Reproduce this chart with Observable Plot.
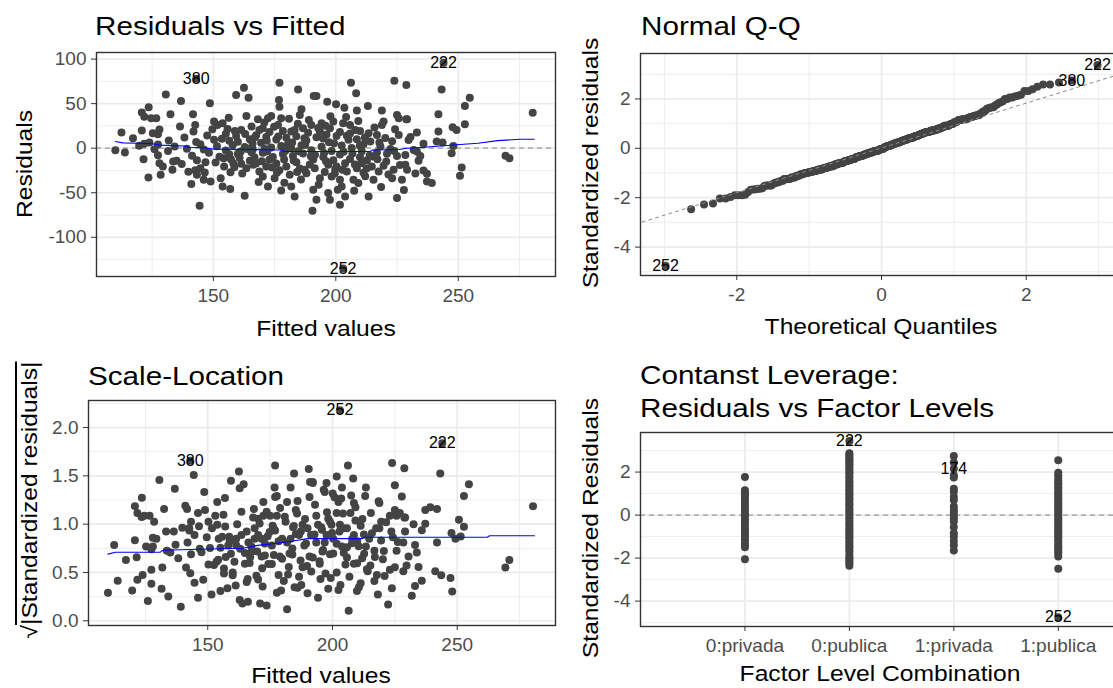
<!DOCTYPE html>
<html><head><meta charset="utf-8">
<script src="https://cdn.jsdelivr.net/npm/d3@7"></script>
<script src="https://cdn.jsdelivr.net/npm/@observablehq/plot@0.6"></script>
<style>
body{margin:0;width:1113px;height:688px;overflow:hidden;position:relative;background:#fff;font-family:"Liberation Sans",Arial,sans-serif;}
.panel{position:absolute;width:580px;z-index:1;}
.panel svg{max-width:none !important;}
.title{position:absolute;z-index:3;font-size:26px;line-height:1;color:#000;white-space:nowrap;transform-origin:left center;transform:scaleX(1.14);}
.xlab{position:absolute;z-index:3;font-size:22px;line-height:1;color:#000;white-space:nowrap;transform:translateX(-50%) scaleX(1.12);}
.ylab{position:absolute;z-index:3;font-size:22px;line-height:1;color:#000;white-space:nowrap;transform:translate(-50%,-50%) rotate(-90deg) scaleX(1.12);}
</style></head>
<body>
<div class="title" style="left:95px;top:13px">Residuals vs Fitted</div>
<div class="title" style="left:641px;top:13px">Normal Q-Q</div>
<div class="title" style="left:88px;top:363px">Scale-Location</div>
<div class="title" style="left:640px;top:359px;line-height:33px">Contanst Leverage:<br>Residuals vs Factor Levels</div>
<div class="xlab" style="left:326px;top:318px">Fitted values</div>
<div class="xlab" style="left:881px;top:316px">Theoretical Quantiles</div>
<div class="xlab" style="left:321px;top:665px">Fitted values</div>
<div class="xlab" style="left:880px;top:663px">Factor Level Combination</div>
<div class="ylab" style="left:25px;top:164px">Residuals</div>
<div class="ylab" style="left:591px;top:163px">Standardized residuals</div>
<div class="ylab" style="left:30px;top:500px">√<span style="text-decoration:overline">|Standardized residuals|</span></div>
<div class="ylab" style="left:591px;top:528px">Standardized Residuals</div>
<div id="p1" class="panel" style="left:0;top:45px"></div>
<div id="p2" class="panel" style="left:560px;top:45px"></div>
<div id="p3" class="panel" style="left:0;top:390px"></div>
<div id="p4" class="panel" style="left:560px;top:425px"></div>
<script>
// Residuals vs fitted values: [fitted, residual]
const residPoints = [
[110,-2.4],[112.5,17.5],[113.9,-4.9],[117.2,11.2],[120.8,40],[123.6,46],[121.8,35.4],[124.6,33.6],[120.8,19.8],[121.8,5.1],
[121.5,-12.3],[123.5,-32.8],[126.7,33.6],[128,21],[127.4,15.6],[125.3,16.8],[123.9,6.4],[127.4,4.2],[127.4,-7.9],[126,-1.2],
[128,-16.8],[129.4,-20.5],[128.5,-29.9],[130.6,60.4],[132.5,38],[131.8,8.6],[131.5,-3.1],[133.6,-14.9],[133.3,-24.3],[136.4,24.3],
[136.8,53],[135,-14.2],[137.1,-17.6],[138.2,11.9],[139.2,-0.6],[141.7,38],[142.6,26],[141.9,18.7],[143,6.9],[141.3,-8.6],
[143.3,-13.5],[144.7,-22.4],[142.6,-24.8],[141,-40.3],[146.1,-35.4],[144.4,-64.6],[148.6,50.4],[150.3,29.9],[149.6,21.3],[148.9,-37.3],
[148.2,-5.1],[150.9,-16.1],[153,-33.6],[153.8,-42.9],[156.9,-45.9],[151.7,26.1],[153.8,28],[156.3,34.3],[153.5,10.6],[156.5,8.3],
[159.3,59.7],[162.5,67.9],[164.4,56.7],[163.5,36.2],[162.8,-53.4],[161.4,20.5],[165.6,24.3],[159.3,13.7],[155.1,-2.7],[157.9,3.2],
[160,-6.3],[162.8,1.3],[165.6,-4.6],[157.2,-12.4],[161.4,-17.4],[163.5,-22.4],[158.6,-21.5],[166.3,-18.7],[154.4,-20.5],[164.9,9.9],
[167,12.3],[146.1,-1.6],[144.7,4.4],[146.8,-15.8],[143.3,-29.9],[119.7,2.8],[155.1,16.2],[160,7.1],[163.9,-0.9],[156.5,-6.8],
[160.7,-10.6],[164.9,-14],[157,-27],[150.3,9.6],[147.5,14.3],
[177,73.5],[184.6,66],[192.1,58.6],[191,58.6],[196.5,52.2],[200.1,49.3],[203.5,45.5],[206.2,73.5],[208.3,61.6],[213.1,47.4],
[208.6,42.2],[218.8,42.2],[223.9,75.7],[228.8,70.9],[225,37.3],[225.7,33.6],[228.8,32.5],[176.8,54.1],[177,46.6],[173.6,36.2],
[172.3,33.6],[168.2,32.5],[186,43.7],[185.3,37.3],[177.7,33.6],[176.4,26.1],[170.2,22.4],[181.8,18.7],[186.6,22.4],[190,26.1],
[194.2,28],[199,29.9],[203,28],[205.8,26.1],[207.9,20.5],[213.4,16.8],[214.1,7.5],[219.5,29.9],[218.8,26.1],[223,7.9],
[225.7,14.9],[167.5,14.4],[171.6,12.6],[175.7,9.8],[179.8,11.7],[183.9,13.4],[188,8.7],[192.1,12.2],[196.2,15.3],[200.3,13.8],
[204.5,14.1],[208.6,9.9],[211.3,4.3],[166.1,-1.1],[170.2,-5.2],[174.3,-9.8],[178.4,-6.4],[182.5,-8.8],[186.6,-5.9],[190.8,-12.6],
[194.9,-9.9],[199,-13.5],[201.7,-7.1],[205.8,-12.2],[209.9,-10.1],[212.7,-13.7],[216.8,-4.8],[220.9,-6.1],[225,-8.7],[228.4,-7.5],
[167.5,-16.8],[171.6,-20.5],[175.7,-17.3],[179.8,-20.5],[183.9,-15.9],[187.3,-24.3],[191.4,-22.4],[196.9,-18.7],[200.3,-20.5],[204.5,-26.1],
[208.6,-22.4],[214.7,-20.5],[219.5,-19.6],[223.6,-24.3],[170.2,-31.7],[175,-33.6],[181.2,-29.9],[188,-28],[193.5,-33.6],[198.3,-31.7],
[201.7,-35.4],[207.2,-35.4],[215.4,-35.4],[223,-33.6],[227,-35.4],[172.3,-42.9],[177.7,-47.4],[181.8,-42.9],[183.2,-54.1],[190.8,-46.6],
[192.1,-57.8],[196.9,-50.4],[197.6,-57.8],[202.4,-42.9],[203.8,-54.1],[201.7,-63.4],[209.2,-39.2],[213.4,-54.1],[225,-56],[190.5,-70.1],
[169.5,6.2],[173.6,0.7],[177.7,2.4],[181.8,-0.4],[186,3.3],[190,-2.3],[194.2,1.6],[198.3,-3.1],[202.4,2.9],[206.5,0.3],
[210.6,-3.4],[218.2,2.1],[222.3,-0.8],[168.8,-26.1],[172.9,-13],[177,-24.8],[185.3,-22.9],[189.4,-18.2],[195.5,-26.6],[199.6,-28],
[203.8,-16.8],[211.3,-27.5],[217.5,-26.1],[168.8,20.5],[172.9,18.2],[178.4,19.2],[183.2,20.5],[188.7,17.3],[193.5,18.7],[197.6,22.4],
[201.7,18.1],[205.8,16.5],[209.9,19.3],[216.8,14.9],
[152.5,-9.5],[155.8,21.5],[158.2,-17.2],[161.8,-28.4],[163,15.8],[166.8,-10.2],[168.5,-38],[170.8,28.8],[172,-3.6],[174.8,24],
[176,-27.5],[179,-38.8],[180.5,4.8],[182.8,-13.8],[184.5,27.4],[185.8,-35],[187.5,3.9],[189,31.6],[191.5,-7.4],[193,-41],
[194.8,10.8],[196,-14.6],[197.8,35.9],[199.3,5.6],[200.8,-46.5],[202.8,-24.2],[204.2,35.1],[206.8,-5.9],[207.5,-47.8],[209.2,30.6],
[210.5,-16.9],[212,-31.5],[213.8,-8.1],[215.8,23.3],[217,-12.4],[218.5,-43.5],[220.2,11.5],[221.5,-29.6],[224.2,21.2],[226.2,-18.9],
[227.8,-47],[230.5,12.6],[232.5,-28.4],[234.5,-8.8],[180.9,33],[171,-0.9],[184.8,-3.4],[195.8,25.2],[211.9,11.9],[178.9,-12.6],
[151.5,2.1],[154.2,-11.3],[158.8,19.4],[161.2,-3.8],[166,5.3],[169.8,-14.6],[171.8,8.4],[174,-21.8],[176.5,13.2],[179.4,-2.8],
[182.2,6.5],[184.2,-26.6],[187.2,11.1],[189.8,-9.1],[192.8,22.6],[195.2,-5.3],[197.2,6.8],[199.8,-23.4],[203.2,-3.9],[205.2,9.6],
[207.8,-18.3],[209.8,2.7],[212.6,-22.7],[215.2,-9.3],[217.8,6.4],[220.6,-14.8],[223.8,-3.2],[146.5,-27.2],[139.8,-26.4],[134.2,1.8],
[243.2,66],[254.7,56.7],[252.7,47.4],[252.7,26.9],[247.7,23.5],[249.3,20.5],[241.9,38],[241.9,18.7],[229.1,32.5],[233.1,17.5],
[229.7,9.3],[241.2,7.5],[243.6,6.3],[235.8,4.9],[248,2.6],[247.3,-5.6],[233.1,-3.7],[231.8,-1.9],[228.4,-18.7],[229.1,-24.3],
[233.8,-14.2],[235.8,-25],[237.2,-28.7],[237.2,-37.3],[239.2,-39.2],[251.4,-21.6],[250.7,-31],[269.3,-8.6],[270.9,-11.2],[280.4,39.9]
];
// labelled observations
const outlierIds = ["380","222","252"];
const outlierFitted = [143,244,203];
const outlierResid = [78,96,-135];
// residual standard error used to standardize (252: -135 -> -4.75)
const residualScale = 28.42;
// smoother lines
const smoothResid = [[110,7.5],[113,6],[119,5.5],[125,5],[128,3.5],[138,2.5],[140,1],[146,0.5],[150,-1],[164,-1.5],[178,-2],[179,-3.7],[214,-3.7],[215,-2],[226,-1.5],[229,0],[236,1],[248,3.5],[258,5.5],[266,8.5],[275,10],[281,10]];
const smoothScale = [[110,0.69],[113,0.71],[131,0.71],[132,0.73],[147,0.74],[164,0.75],[170,0.78],[177,0.80],[183,0.82],[190,0.85],[212,0.85],[213,0.865],[262,0.865],[263,0.88],[281,0.88]];
const qqLine = [[-3.4,-3.07],[3.4,3.1]];
// Factor level panel: standardized residuals per group
const factorLevels = ["0:privada","0:publica","1:privada","1:publica"];
const stdPrivada0 = [1.77,1.15,1.05,0.96,0.84,0.71,0.55,0.42,0.3,0.16,0.05,-0.06,-0.2,-0.31,-0.45,-0.6,-0.74,-0.86,-1.0,-1.12,-1.25,-1.4,-1.5,-2.05];
const stdPublica0 = [3.45,2.88,2.81,2.7,2.63,2.55,2.47,2.38,2.31,2.2,2.12,2.0,1.93,1.81,1.72,1.6,1.52,1.41,1.33,1.2,1.12,1.0,0.93,0.8,0.72,0.61,0.5,0.42,0.3,0.21,0.1,0.02,-0.1,-0.18,-0.3,-0.41,-0.5,-0.62,-0.7,-0.81,-0.9,-1.02,-1.1,-1.21,-1.3,-1.42,-1.5,-1.61,-1.7,-1.85,-1.96,-2.05,-2.16,-2.25,-2.35];
const stdPrivada1 = [2.75,2.45,2.15,1.85,1.75,1.22,1.1,0.85,0.7,0.4,0.25,0.12,-0.02,-0.15,-0.3,-0.55,-0.85,-1.0,-1.2,-1.4,-1.65];
const stdPublica1 = [2.55,1.97,1.85,1.72,1.6,1.5,1.41,1.3,1.22,1.1,1.0,0.9,0.8,0.71,0.6,0.5,0.4,0.3,0.2,0.1,0.0,-0.1,-0.2,-0.3,-0.4,-0.5,-0.6,-0.72,-0.8,-0.9,-1.0,-1.1,-1.21,-1.3,-1.42,-1.5,-1.6,-1.7,-1.8,-1.92,-2.5,-4.75];
const factorLabels = [["0:publica",3.45,"222"],["1:privada",2.15,"174"],["1:publica",-4.75,"252"]];

// ---------- build tables ----------
const pts = residPoints.map(([f,r]) => ({fitted:f, resid:r, id:null}))
  .concat(outlierIds.map((id,i) => ({fitted:outlierFitted[i], resid:outlierResid[i], id})));
pts.forEach(d => { d.std = d.resid / residualScale; d.sqrtStd = Math.sqrt(Math.abs(d.std)); });

function qnorm(p){
  const a=[-3.969683028665376e+01,2.209460984245205e+02,-2.759285104469687e+02,1.383577518672690e+02,-3.066479806614716e+01,2.506628277459239e+00];
  const b=[-5.447609879822406e+01,1.615858368580409e+02,-1.556989798598866e+02,6.680131188771972e+01,-1.328068155288572e+01];
  const c=[-7.784894002430293e-03,-3.223964580411365e-01,-2.400758277161838e+00,-2.549732539343734e+00,4.374664141464968e+00,2.938163982698783e+00];
  const d=[7.784695709041462e-03,3.224671290700398e-01,2.445134137142996e+00,3.754408661907416e+00];
  const pl=0.02425; let q,r;
  if(p<pl){q=Math.sqrt(-2*Math.log(p));return (((((c[0]*q+c[1])*q+c[2])*q+c[3])*q+c[4])*q+c[5])/((((d[0]*q+d[1])*q+d[2])*q+d[3])*q+1);}
  if(p<=1-pl){q=p-0.5;r=q*q;return (((((a[0]*r+a[1])*r+a[2])*r+a[3])*r+a[4])*r+a[5])*q/(((((b[0]*r+b[1])*r+b[2])*r+b[3])*r+b[4])*r+1);}
  q=Math.sqrt(-2*Math.log(1-p));return -(((((c[0]*q+c[1])*q+c[2])*q+c[3])*q+c[4])*q+c[5])/((((d[0]*q+d[1])*q+d[2])*q+d[3])*q+1);
}
const sorted = pts.slice().sort((a,b) => a.std - b.std);
const n = sorted.length;
sorted.forEach((d,i) => { d.theo = qnorm((i + 0.5) / n); });
const labelled = pts.filter(d => d.id);

const groups = [stdPrivada0, stdPublica0, stdPrivada1, stdPublica1];
const factorPts = groups.flatMap((arr,gi) => arr.map(v => ({level: gi + 1, std: v})));
const factorLab = factorLabels.map(([lev,v,t]) => ({level: factorLevels.indexOf(lev) + 1, std: v, text: t}));

// ---------- shared styling ----------
const FONT = "'Liberation Sans', Arial, sans-serif";
const gridMinor = {stroke:"#ebebeb", strokeOpacity:1, strokeWidth:0.9};
const gridMajor = {stroke:"#ebebeb", strokeOpacity:1, strokeWidth:1.7};
const dotStyle = {r:4, fill:"#444444", stroke:"none"};
const style = {fontFamily: FONT, fontSize:"19px", color:"#4d4d4d", background:"white", overflow:"visible", maxWidth:"none"};
const fmt = d => String(d);
const axX = (o) => Plot.axisX({tickSize:5, tickPadding:7, label:null, stroke:"#333", tickFormat:fmt, ...o});
const axY = (o) => Plot.axisY({tickSize:5, tickPadding:5, label:null, stroke:"#333", tickFormat:fmt, ...o});
const frame = Plot.frame({stroke:"#333333", strokeWidth:1.4});
const labelText = (data, x, y, text) => Plot.text(data, {x, y, text, fill:"#000", fontSize:16, fontFamily:FONT});

// ---------- Panel 1: Residuals vs Fitted ----------
document.getElementById("p1").append(Plot.plot({
  width:580, height:300, marginLeft:96, marginRight:25, marginTop:7, marginBottom:69,
  style,
  x:{domain:[102.3,289.7]}, y:{domain:[-144,107.4]},
  marks:[
    Plot.gridX([125,175,225,275], gridMinor),
    Plot.gridY([-125,-75,-25,25,75], gridMinor),
    Plot.gridX([150,200,250], gridMajor),
    Plot.gridY([-100,-50,0,50,100], gridMajor),
    Plot.ruleY([0], {stroke:"#9a9a9a", strokeWidth:1.2, strokeDasharray:"5,4"}),
    Plot.dot(pts, {x:"fitted", y:"resid", ...dotStyle}),
    Plot.line(smoothResid, {x:d=>d[0], y:d=>d[1], stroke:"#0000ff", strokeWidth:1.1}),
    labelText(labelled, "fitted", "resid", "id"),
    frame,
    axX({ticks:[150,200,250]}),
    axY({ticks:[-100,-50,0,50,100]})
  ]
}));

// ---------- Panel 2: Normal Q-Q ----------
document.getElementById("p2").append(Plot.plot({
  width:580, height:300, marginLeft:80, marginRight:18, marginTop:8, marginBottom:70,
  style,
  x:{domain:[-3.33,3.33]}, y:{domain:[-5.15,3.84]},
  marks:[
    Plot.gridX([-3,-1,1,3], gridMinor),
    Plot.gridY([-5,-3,-1,1,3], gridMinor),
    Plot.gridX([-2,0,2], gridMajor),
    Plot.gridY([-4,-2,0,2], gridMajor),
    Plot.dot(sorted, {x:"theo", y:"std", ...dotStyle}),
    Plot.line(qqLine, {x:d=>d[0], y:d=>d[1], stroke:"#8c8c8c", strokeWidth:1, strokeDasharray:"3,4", clip:true}),
    labelText(labelled, "theo", "std", "id"),
    frame,
    axX({ticks:[-2,0,2]}),
    axY({ticks:[-4,-2,0,2]})
  ]
}));

// ---------- Panel 3: Scale-Location ----------
document.getElementById("p3").append(Plot.plot({
  width:580, height:298, marginLeft:88, marginRight:25, marginTop:10, marginBottom:63,
  style,
  x:{domain:[102.2,289.4]}, y:{domain:[-0.049,2.28]},
  marks:[
    Plot.gridX([125,175,225,275], gridMinor),
    Plot.gridY([0.25,0.75,1.25,1.75,2.25], gridMinor),
    Plot.gridX([150,200,250], gridMajor),
    Plot.gridY([0,0.5,1,1.5,2], gridMajor),
    Plot.dot(pts, {x:"fitted", y:"sqrtStd", ...dotStyle}),
    Plot.line(smoothScale, {x:d=>d[0], y:d=>d[1], stroke:"#0000ff", strokeWidth:1.1}),
    labelText(labelled, "fitted", "sqrtStd", "id"),
    frame,
    axX({ticks:[150,200,250]}),
    axY({ticks:[0,0.5,1,1.5,2], tickFormat:d => d.toFixed(1)})
  ]
}));

// ---------- Panel 4: Residuals vs Factor Levels ----------
document.getElementById("p4").append(Plot.plot({
  width:580, height:263, marginLeft:80, marginRight:18, marginTop:7, marginBottom:62,
  style,
  x:{domain:[0,4.615]}, y:{domain:[-5.18,3.84]},
  marks:[
    Plot.gridY([-5,-3,-1,1,3], gridMinor),
    Plot.gridX([1,2,3,4], gridMajor),
    Plot.gridY([-4,-2,0,2], gridMajor),
    Plot.ruleY([0], {stroke:"#9a9a9a", strokeWidth:1.2, strokeDasharray:"5,4"}),
    Plot.dot(factorPts, {x:"level", y:"std", ...dotStyle}),
    labelText(factorLab, "level", "std", "text"),
    frame,
    axX({ticks:[1,2,3,4], tickFormat:i => factorLevels[i-1]}),
    axY({ticks:[-4,-2,0,2]})
  ]
}));
</script>
</body></html>
